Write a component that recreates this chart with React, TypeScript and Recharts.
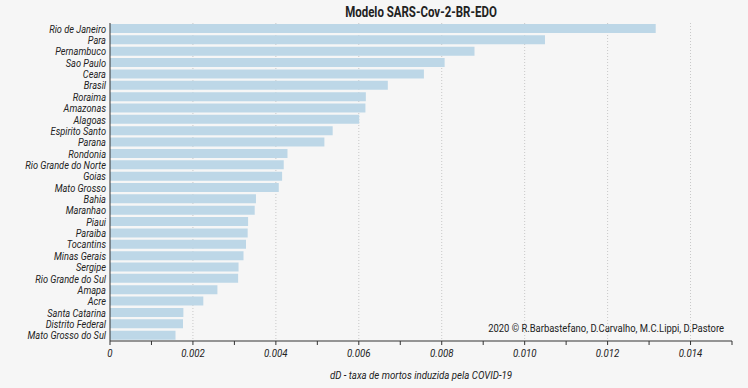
import React from 'react';
import { BarChart, Bar, XAxis, YAxis, CartesianGrid } from 'recharts';

const states = [
  'Rio de Janeiro', 'Para', 'Pernambuco', 'Sao Paulo', 'Ceara', 'Brasil', 'Roraima', 'Amazonas',
  'Alagoas', 'Espirito Santo', 'Parana', 'Rondonia', 'Rio Grande do Norte', 'Goias', 'Mato Grosso',
  'Bahia', 'Maranhao', 'Piaui', 'Paraiba', 'Tocantins', 'Minas Gerais', 'Sergipe', 'Rio Grande do Sul',
  'Amapa', 'Acre', 'Santa Catarina', 'Distrito Federal', 'Mato Grosso do Sul',
];
const dD = [
  0.01316, 0.01049, 0.00879, 0.00807, 0.00757, 0.0067, 0.00617, 0.00616,
  0.00601, 0.00537, 0.00517, 0.00428, 0.00419, 0.00415, 0.00407,
  0.00352, 0.00349, 0.00333, 0.00332, 0.00328, 0.00322, 0.0031, 0.00309,
  0.00259, 0.00225, 0.00177, 0.00176, 0.00158,
];
const xTicks = [0, 0.001, 0.002, 0.003, 0.004, 0.005, 0.006, 0.007, 0.008, 0.009, 0.01, 0.011, 0.012, 0.013, 0.014, 0.015];
const labeledTicks = [0, 0.002, 0.004, 0.006, 0.008, 0.01, 0.012, 0.014];
const gridValues = [0.002, 0.004, 0.006, 0.008, 0.01, 0.012, 0.014];
const title = 'Modelo SARS-Cov-2-BR-EDO';
const xLabel = 'dD - taxa de mortos induzida pela COVID-19';
const credit = '2020 © R.Barbastefano, D.Carvalho, M.C.Lippi, D.Pastore';

const data = states.map((name, i) => ({ name, value: dD[i] }));

const FONT = 'Roboto, "Liberation Sans", sans-serif';

const fmt = (v: number) => {
  const hit = labeledTicks.find((t) => Math.abs(t - v) < 1e-9);
  if (hit === undefined) return '';
  return hit === 0 ? '0' : hit.toFixed(3);
};

const SText = ({ x, y, anchor, size = 12, sx = 0.84, italic = true, bold = false, children }: any) => (
  <g transform={`translate(${x},${y}) scale(${sx},1)`}>
    <text x={0} y={0} textAnchor={anchor} fill="#222" fontSize={size} fontStyle={italic ? 'italic' : 'normal'} fontWeight={bold ? 'bold' : 'normal'} fontFamily={FONT}>
      {children}
    </text>
  </g>
);

const YTick = (props: any) => {
  const { y, payload } = props;
  return <SText x={106} y={y + 4} anchor="end" size={11}>{payload.value}</SText>;
};

const XTick = (props: any) => {
  const { x, y, payload } = props;
  const s = fmt(payload.value);
  if (!s) return null;
  return <SText x={x} y={y + 10} anchor="middle" size={11.5} sx={0.84}>{s}</SText>;
};

export default function App() {
  return (
    <div style={{ position: 'absolute', left: 0, top: 0, width: 748, height: 388, background: '#f6f6f6' }}>
      <svg style={{ position: 'absolute', left: 0, top: 0, pointerEvents: 'none' }} width={748} height={388}>
        <SText x={421} y={17} anchor="middle" size={14} sx={0.82} italic={false} bold>{title}</SText>
        <SText x={724} y={332} anchor="end" size={11.5} sx={0.82} italic={false}>{credit}</SText>
        <SText x={421} y={379} anchor="middle" size={11.8} sx={0.82}>{xLabel}</SText>
      </svg>
      <BarChart
        width={748}
        height={388}
        data={data}
        layout="vertical"
        margin={{ top: 23, right: 16, left: 0, bottom: 0 }}
        barCategoryGap={1}
      >
        <CartesianGrid horizontal={false} verticalValues={gridValues} stroke="#c8c8c8" strokeDasharray="1 2" />
        <XAxis
          type="number"
          domain={[0, 0.015]}
          ticks={xTicks}
          interval={0}
          height={47}
          tickSize={4}
          tickMargin={2}
          stroke="#333"
          tick={<XTick />}
        />
        <XAxis xAxisId="top" orientation="top" type="number" domain={[0, 0.015]} height={0} tick={false} tickLine={false} stroke="#333" />
        <YAxis
          type="category"
          dataKey="name"
          width={110}
          interval={0}
          tickLine={false}
          tickMargin={0}
          stroke="#333"
          tick={<YTick />}
        />
        <YAxis yAxisId="right" orientation="right" type="category" dataKey="name" width={0} tick={false} tickLine={false} stroke="#555" />
        <Bar dataKey="value" fill="#bdd7e7" isAnimationActive={false} />
      </BarChart>
    </div>
  );
}
